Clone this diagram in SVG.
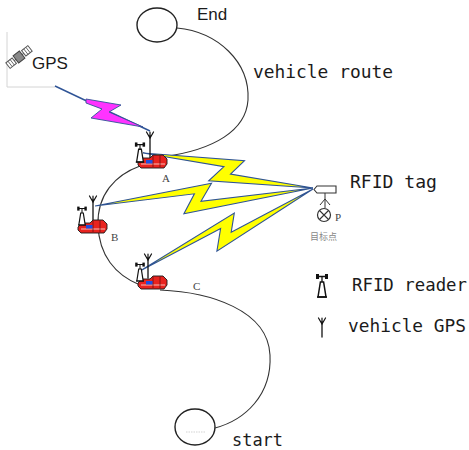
<svg xmlns="http://www.w3.org/2000/svg" xmlns:xlink="http://www.w3.org/1999/xlink" width="469" height="450" viewBox="0 0 469 450">
  <style>
    .route { fill: none; stroke: #333; stroke-width: 1.1; }
    .terminal { fill: #fff; stroke: #222; stroke-width: 1.4; }
    .link { fill: none; stroke: #2f5496; stroke-width: 1.4; }
    .bolt { fill: #ffff00; stroke: #2f5496; stroke-width: 1.1; stroke-linejoin: miter; }
    .bolt-gps { fill: #ff33ff; stroke: #2f5496; stroke-width: 0.9; }
    .mono { font-family: "DejaVu Sans Mono", "Liberation Mono", monospace; font-size: 17px; fill: #1b1b1b; }
    .sans { font-family: "Liberation Sans", Arial, sans-serif; fill: #1b1b1b; }
    .letter { font-family: "Liberation Serif", "Times New Roman", serif; font-size: 11px; fill: #444; }
    .ant { fill: none; stroke: #111; stroke-width: 1.3; stroke-linecap: round; }
  </style>
  <defs>
    <!-- RFID reader tower, origin at base centre -->
    <g id="reader">
      <path d="M-4,0 L-1.6,-15 L1.6,-15 L4,0 Z" fill="#fff" stroke="#111" stroke-width="1.5"/>
      <path d="M-5,0 H5 M0,-15 V-20 M-4,-20.5 H4" fill="none" stroke="#111" stroke-width="1.3"/>
      <rect x="-6" y="-23" width="3" height="5" fill="#111"/>
      <rect x="3" y="-23" width="3" height="5" fill="#111"/>
    </g>
    <!-- antenna head of the vehicle GPS -->
    <path id="gps-head" d="M-3.5,-4 L0,2 L3.5,-4 M0,-4 V2" fill="none" stroke="#111" stroke-width="1.2" stroke-linecap="round"/>
    <!-- red vehicle body, origin at top-left -->
    <g id="car">
      <path d="M0,7 L4,3 L12,3 L15,0 L25,0 L29,4 L29,9 L26,13 L3,13 L0,10 Z" fill="#e8231f" stroke="#1a1a1a" stroke-width="0.9"/>
      <path d="M3,9 H27" stroke="#fbd0c8" stroke-width="0.9"/>
      <path d="M15,1 V12 M22,0.5 V12" stroke="#5a0d0b" stroke-width="0.7"/>
      <rect x="8" y="5" width="6.5" height="3.5" fill="#1e4fe0"/>
    </g>
  </defs>

  <!-- GPS satellite panel -->
  <g id="gps-satellite">
    <path d="M7,32 V87 H55" fill="none" stroke="#d4d4d4" stroke-width="1"/>
    <g transform="translate(19,57) rotate(-38)">
      <path d="M-6,0 H-4 M4,0 H6" stroke="#444" stroke-width="1"/>
      <rect x="-14" y="-3.5" width="8" height="7" fill="#fff" stroke="#555" stroke-width="1"/>
      <path d="M-11.3,-3.5 V3.5 M-8.6,-3.5 V3.5" stroke="#555" stroke-width="0.8"/>
      <rect x="6" y="-3.5" width="8" height="7" fill="#fff" stroke="#555" stroke-width="1"/>
      <path d="M8.7,-3.5 V3.5 M11.4,-3.5 V3.5" stroke="#555" stroke-width="0.8"/>
      <rect x="-4" y="-4.5" width="8" height="9" fill="#888" stroke="#444" stroke-width="1"/>
    </g>
    <text class="sans" x="32" y="69" font-size="17">GPS</text>
  </g>

  <!-- route terminals -->
  <g id="end">
    <ellipse class="terminal" cx="157" cy="25" rx="20" ry="17"/>
    <text class="sans" x="197" y="20" font-size="17">End</text>
  </g>
  <g id="start">
    <ellipse class="terminal" cx="195" cy="427" rx="20" ry="18"/>
    <path d="M186,432 H205" stroke="#c8c8c8" stroke-width="0.8" stroke-dasharray="1.5,1"/>
    <text class="mono" x="232" y="446" textLength="51" lengthAdjust="spacingAndGlyphs">start</text>
  </g>

  <!-- vehicle route and radio links -->
  <g id="connectors">
    <path class="route" d="M177,28 C218,32 250,62 248,100 C246,130 215,150 162,157"/>
    <path class="route" d="M140,166 C115,175 97,195 98,225 C99,255 115,275 140,285"/>
    <path class="route" d="M160,290 C210,292 268,310 270,355 C272,395 245,420 215,428"/>

    <line class="link" x1="55" y1="86" x2="150" y2="131"/>
    <polygon class="bolt-gps" points="86,99 121,105 109,112 143,127 91,118 102,109 86,103"/>

    <polygon class="bolt" points="143,153 244.5,160.7 230.5,174.1 313,188 208.7,180.8 223.9,166.7"/>
    <polygon class="bolt" points="95,206 211.5,183.3 201,201.3 313,188 183.9,213.8 194.4,193.8"/>
    <polygon class="bolt" points="140,271 234.3,213.1 231.2,232.2 313,189 216.9,251.2 220.6,228.5"/>
  </g>

  <g id="vehicle-route-label">
    <text class="mono" x="253" y="78" textLength="140" lengthAdjust="spacingAndGlyphs">vehicle route</text>
  </g>

  <!-- vehicles on the route -->
  <g id="vehicle-a">
    <path class="ant" d="M150,136 V158"/>
    <use xlink:href="#gps-head" transform="translate(150,136)"/>
    <use xlink:href="#car" x="138" y="155"/>
    <use xlink:href="#reader" transform="translate(140,162) scale(0.85)"/>
    <text class="letter" x="162" y="182">A</text>
  </g>
  <g id="vehicle-b">
    <path class="ant" d="M93,200 V222"/>
    <use xlink:href="#gps-head" transform="translate(93,200)"/>
    <use xlink:href="#car" x="78" y="220"/>
    <use xlink:href="#reader" transform="translate(82,225) scale(0.8)"/>
    <text class="letter" x="111" y="241">B</text>
  </g>
  <g id="vehicle-c">
    <path class="ant" d="M148,258 V278"/>
    <use xlink:href="#gps-head" transform="translate(148,258)"/>
    <use xlink:href="#car" x="138" y="276"/>
    <use xlink:href="#reader" transform="translate(140,281) scale(0.8)"/>
    <text class="letter" x="193" y="290">C</text>
  </g>

  <!-- RFID tag at the target point -->
  <g id="rfid-tag">
    <path d="M314,189.5 L317,186 H336 V193 H317 Z" fill="#fff" stroke="#333" stroke-width="1.1"/>
    <path d="M325,193 V208 M325,199 L320,205 M325,199 L330,205" fill="none" stroke="#333" stroke-width="1"/>
    <circle cx="324" cy="215" r="6.5" fill="#fff" stroke="#333" stroke-width="1.2"/>
    <path d="M319.5,210.5 L328.5,219.5 M328.5,210.5 L319.5,219.5" stroke="#333" stroke-width="1.1"/>
    <text class="letter" x="335" y="221" font-size="12" fill="#555">P</text>
    <text x="310" y="240" font-family="'Noto Sans CJK SC', sans-serif" font-size="9" fill="#888">目标点</text>
    <text class="mono" x="350" y="188" textLength="87" lengthAdjust="spacingAndGlyphs">RFID tag</text>
  </g>

  <!-- legend -->
  <g id="legend-reader">
    <use xlink:href="#reader" transform="translate(322,297)"/>
    <text class="mono" x="352" y="291" textLength="115" lengthAdjust="spacingAndGlyphs">RFID reader</text>
  </g>
  <g id="legend-gps">
    <path class="ant" d="M322,322 V337"/>
    <use xlink:href="#gps-head" transform="translate(322,322)"/>
    <text class="mono" x="348" y="332" textLength="118" lengthAdjust="spacingAndGlyphs">vehicle GPS</text>
  </g>
</svg>
